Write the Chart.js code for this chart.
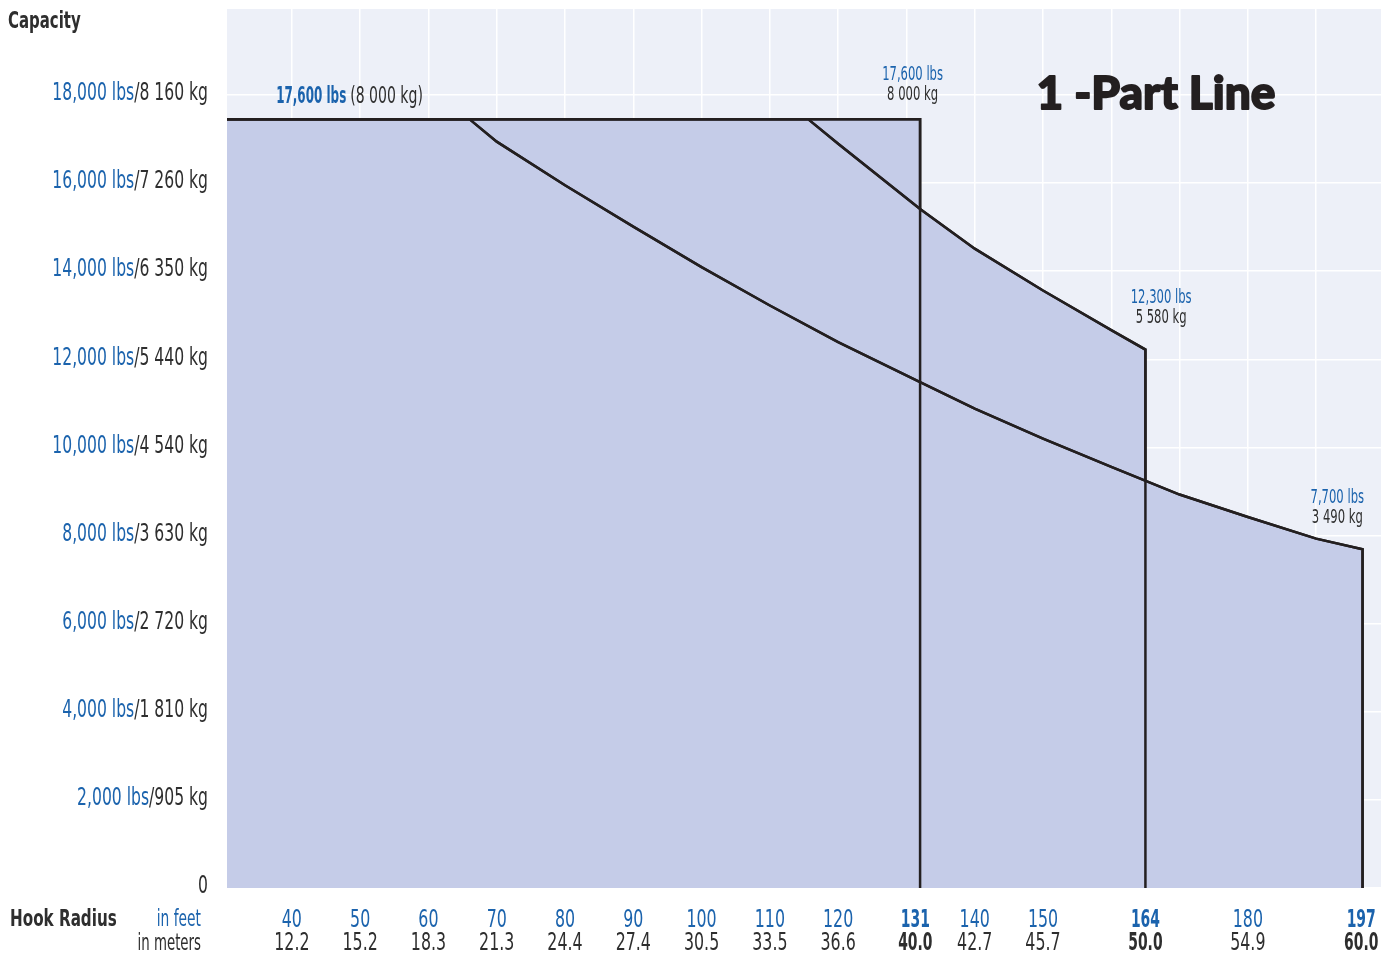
<!DOCTYPE html>
<html>
<head>
<meta charset="utf-8">
<script src="https://cdn.jsdelivr.net/npm/chart.js@4.4.1/dist/chart.umd.min.js"></script>
<style>
  html, body { margin: 0; padding: 0; background: #ffffff; }
  #wrap { width: 1396px; height: 954px; }
</style>
</head>
<body>
<div id="wrap"><canvas id="myChart" width="1396" height="954"></canvas></div>
<script>
// DATA (hook radius in feet, capacity in lbs)
const radius40 = [30.5, 132, 132];
const cap40 = [17450, 17450, 0];
const radius50 = [30.5, 115.6, 120, 132, 140, 150, 160, 165, 165];
const cap50 = [17450, 17450, 16890, 15410, 14510, 13560, 12660, 12220, 0];
const radius60 = [30.5, 66, 70, 80, 90, 100, 110, 120, 132, 140, 150, 160, 170, 180, 190, 196.8, 196.8];
const cap60 = [17450, 17450, 16940, 15950, 15010, 14090, 13220, 12390, 11480, 10880, 10200, 9560, 8930, 8420, 7930, 7690, 0];

// AXES
const gridFeet = [40, 50, 60, 70, 80, 90, 100, 110, 120, 130, 140, 150, 160, 170, 180, 190];
const feetTickPos = [40, 50, 60, 70, 80, 90, 100, 110, 120, 131.3, 140, 150, 165, 180, 196.6];
const feetLabels = ["40", "50", "60", "70", "80", "90", "100", "110", "120", "131", "140", "150", "164", "180", "197"];
const meterLabels = ["12.2", "15.2", "18.3", "21.3", "24.4", "27.4", "30.5", "33.5", "36.6", "40.0", "42.7", "45.7", "50.0", "54.9", "60.0"];
const boldLabels = ["131", "164", "197", "40.0", "50.0", "60.0"];
const capTicks = [0, 2000, 4000, 6000, 8000, 10000, 12000, 14000, 16000, 18000];
const lbsLabels = ["", "2,000 lbs", "4,000 lbs", "6,000 lbs", "8,000 lbs", "10,000 lbs", "12,000 lbs", "14,000 lbs", "16,000 lbs", "18,000 lbs"];
const kgLabels = ["0", "/905 kg", "/1 810 kg", "/2 720 kg", "/3 630 kg", "/4 540 kg", "/5 440 kg", "/6 350 kg", "/7 260 kg", "/8 160 kg"];

// limit notes: [radius ft, capacity lbs, lbs text, kg text]
const limitNotes = [
  [130.9, 18460, "17,600 lbs", "8 000 kg"],
  [167.3, 13400, "12,300 lbs", "5 580 kg"],
  [193.1, 8850, "7,700 lbs", "3 490 kg"],
];

const BLUE = "#1b63ad";
const DARK = "#2e2e2e";
const FACE = '"DejaVu Sans", sans-serif';

function toPoints(xs, ys) {
  return xs.map((x, i) => ({ x: x, y: ys[i] }));
}

function lineSet(label, xs, ys) {
  return {
    label: label,
    data: toPoints(xs, ys),
    borderColor: "#231f20",
    borderWidth: 2.5,
    backgroundColor: "#c5cce8",
    fill: "origin",
    pointRadius: 0,
    tension: 0,
    borderJoinStyle: "miter",
  };
}

// condensed text: draw with horizontal squeeze, returns drawn width
function squeezed(ctx, text, x, y, align, sx) {
  const w = ctx.measureText(text).width * sx;
  let left = x;
  if (align === "right") left = x - w;
  if (align === "center") left = x - w / 2;
  ctx.save();
  ctx.translate(left, y);
  ctx.scale(sx, 1);
  ctx.textAlign = "left";
  ctx.fillText(text, 0, 0);
  ctx.restore();
  return w;
}

// plot background
const plotBackground = {
  id: "plotBackground",
  beforeDraw(chart) {
    const { ctx, chartArea } = chart;
    ctx.save();
    ctx.fillStyle = "#edf0f8";
    ctx.fillRect(chartArea.left, chartArea.top, chartArea.right - chartArea.left, chartArea.bottom - chartArea.top);
    ctx.restore();
  },
};

// redraw the curves over the white grid, then all texts
const overlay = {
  id: "overlay",
  afterDraw(chart) {
    const ctx = chart.ctx;
    chart.data.datasets.forEach((ds, i) => {
      chart.getDatasetMeta(i).controller.draw();
    });
    const xs = chart.scales.x;
    const ys = chart.scales.y;
    ctx.save();
    ctx.textBaseline = "middle";

    // y labels, two colours
    ctx.font = `24px ${FACE}`;
    capTicks.forEach((v, i) => {
      const y = ys.getPixelForValue(v) - 1;
      ctx.fillStyle = DARK;
      const w = squeezed(ctx, kgLabels[i], 208, y, "right", 0.65);
      ctx.fillStyle = BLUE;
      squeezed(ctx, lbsLabels[i], 208 - w, y, "right", 0.65);
    });

    // x labels, feet over meters
    feetTickPos.forEach((v, i) => {
      const x = xs.getPixelForValue(v);
      const bold = boldLabels.includes(feetLabels[i]);
      ctx.font = `${bold ? "bold " : ""}24px ${FACE}`;
      ctx.fillStyle = BLUE;
      squeezed(ctx, feetLabels[i], x, 921, "center", bold ? 0.58 : 0.66);
      ctx.fillStyle = DARK;
      squeezed(ctx, meterLabels[i], x, 944, "center", bold ? 0.58 : 0.66);
    });

    // axis titles
    ctx.font = `bold 23px ${FACE}`;
    ctx.fillStyle = DARK;
    squeezed(ctx, "Capacity", 8, 22, "left", 0.65);
    squeezed(ctx, "Hook Radius", 10, 920, "left", 0.66);
    ctx.font = `23px ${FACE}`;
    ctx.fillStyle = BLUE;
    squeezed(ctx, "in feet", 201, 920, "right", 0.6);
    ctx.fillStyle = DARK;
    squeezed(ctx, "in meters", 201, 944, "right", 0.58);

    // max capacity note
    const mx = xs.getPixelForValue(37.7);
    const my = ys.getPixelForValue(17950);
    ctx.font = `bold 23px ${FACE}`;
    ctx.fillStyle = BLUE;
    const mw = squeezed(ctx, "17,600 lbs", mx, my, "left", 0.52);
    ctx.font = `23px ${FACE}`;
    ctx.fillStyle = DARK;
    squeezed(ctx, "(8 000 kg)", mx + mw + 4, my, "left", 0.61);

    // limit notes
    ctx.font = `19px ${FACE}`;
    limitNotes.forEach((n) => {
      const x = xs.getPixelForValue(n[0]);
      const y = ys.getPixelForValue(n[1]);
      ctx.fillStyle = BLUE;
      squeezed(ctx, n[2], x, y, "center", 0.61);
      ctx.fillStyle = DARK;
      squeezed(ctx, n[3], x, y + 20, "center", 0.61);
    });

    // title
    ctx.font = `900 46px Lato, "DejaVu Sans", sans-serif`;
    ctx.fillStyle = "#231f20";
    ctx.strokeStyle = "#231f20";
    ctx.lineWidth = 1.8;
    ctx.lineJoin = "round";
    ctx.textAlign = "center";
    ctx.fillText("1 -Part Line", 1156, 94);
    ctx.strokeText("1 -Part Line", 1156, 94);
    ctx.restore();
  },
};

let ctx = document.getElementById("myChart").getContext("2d");

var myChart = new Chart(ctx, {
  type: "line",
  data: {
    datasets: [
      lineSet("60 m", radius60, cap60),
      lineSet("50 m", radius50, cap50),
      lineSet("40 m", radius40, cap40),
    ],
  },
  options: {
    responsive: false,
    animation: false,
    layout: { padding: { left: 0, right: 15, top: 9, bottom: 0 } },
    plugins: {
      legend: { display: false },
      tooltip: { enabled: false },
    },
    scales: {
      x: {
        type: "linear",
        position: "bottom",
        min: 30.5,
        max: 199.5,
        z: 1,
        border: { display: false },
        grid: { color: "#ffffff", lineWidth: 1.5, drawTicks: false },
        ticks: { display: false },
        afterBuildTicks: (s) => { s.ticks = gridFeet.map((v) => ({ value: v })); },
        afterFit: (s) => { s.height = 66; },
      },
      y: {
        min: 0,
        max: 19950,
        z: 1,
        border: { display: false },
        grid: { color: "#ffffff", lineWidth: 1.5, drawTicks: false },
        ticks: { display: false },
        afterBuildTicks: (s) => { s.ticks = capTicks.map((v) => ({ value: v })); },
        afterFit: (s) => { s.width = 227; },
      },
    },
  },
  plugins: [plotBackground, overlay],
});
</script>
</body>
</html>
